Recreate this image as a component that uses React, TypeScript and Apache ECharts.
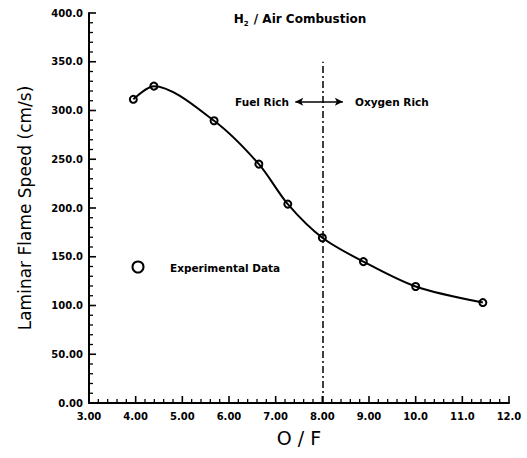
import React, { useEffect, useRef } from "react";
import * as echarts from "echarts";

// O/F ratio of each experimental point
const ofRatios = [3.95, 4.39, 5.68, 6.64, 7.26, 8.0, 8.88, 10.0, 11.44];
// Laminar flame speed (cm/s)
const flameSpeeds = [311.5, 325, 289.5, 245, 204, 169.5, 145, 119.5, 103];

const xTickValues = [3, 4, 5, 6, 7, 8, 9, 10, 11, 12];
const xTickLabels = ["3.00", "4.00", "5.00", "6.00", "7.00", "8.00", "9.00", "10.0", "11.0", "12.0"];
const yTickValues = [0, 50, 100, 150, 200, 250, 300, 350, 400];
const yTickLabels = ["0.00", "50.00", "100.0", "150.0", "200.0", "250.0", "300.0", "350.0", "400.0"];
const minorPerMajor = 5;

// Stoichiometric divider and the rich/lean arrows
const dividerX = 8.0;
const dividerTop = 350;
const arrowY = 309;
const arrowLeftEnd = 7.42;
const arrowRightEnd = 8.44;

const FONT = "DejaVu Sans";

function minorBetween(majors: number[]): number[] {
  const out: number[] = [];
  for (let i = 0; i < majors.length - 1; i++) {
    const step = (majors[i + 1] - majors[i]) / minorPerMajor;
    for (let k = 1; k < minorPerMajor; k++) out.push(+(majors[i] + step * k).toFixed(4));
  }
  return out;
}

function tickSeries(data: number[][], vertical: boolean, len: number, width: number) {
  return {
    type: "custom",
    silent: true,
    clip: false,
    data,
    encode: { x: 0, y: 1 },
    z: 4,
    renderItem: (_params: any, api: any) => {
      const p = api.coord([api.value(0), api.value(1)]);
      return {
        type: "rect",
        shape: vertical
          ? { x: p[0] - width / 2, y: p[1] - len, width: width, height: len }
          : { x: p[0], y: p[1] - width / 2, width: len, height: width },
        style: { fill: "#000" },
      };
    },
  };
}

export default function App() {
  const ref = useRef<HTMLDivElement>(null);

  useEffect(() => {
    if (!ref.current) return;
    const chart = echarts.init(ref.current, undefined, { renderer: "svg" });
    const pairs = ofRatios.map((x, i) => [x, flameSpeeds[i]]);
    const xMin = xTickValues[0];
    const yMin = yTickValues[0];
    chart.setOption({
      animation: false,
      backgroundColor: "#fff",
      textStyle: { fontFamily: FONT, color: "#000" },
      grid: { left: 89, right: 18, top: 13, bottom: 55, containLabel: false },
      xAxis: {
        type: "value",
        min: 3,
        max: 12,
        interval: 1,
        name: "O / F",
        nameLocation: "middle",
        nameGap: 25,
        nameTextStyle: { fontFamily: FONT, fontSize: 19, color: "#000" },
        axisLine: { show: true, onZero: false, lineStyle: { color: "#000", width: 2 } },
        axisTick: { show: false },
        splitLine: { show: false },
        axisLabel: {
          fontFamily: FONT,
          fontWeight: "bold",
          fontSize: 10,
          color: "#000",
          margin: 8,
          formatter: (v: number) => {
            const i = xTickValues.indexOf(Math.round(v));
            return i >= 0 ? xTickLabels[i] : "";
          },
        },
      },
      yAxis: {
        type: "value",
        min: 0,
        max: 400,
        interval: 50,
        name: "Laminar Flame Speed (cm/s)",
        nameLocation: "middle",
        nameGap: 56,
        nameTextStyle: { fontFamily: FONT, fontSize: 17, color: "#000" },
        axisLine: { show: true, onZero: false, lineStyle: { color: "#000", width: 2 } },
        axisTick: { show: false },
        splitLine: { show: false },
        axisLabel: {
          fontFamily: FONT,
          fontWeight: "bold",
          fontSize: 10,
          color: "#000",
          margin: 6,
          formatter: (v: number) => {
            const i = yTickValues.indexOf(Math.round(v));
            return i >= 0 ? yTickLabels[i] : "";
          },
        },
      },
      series: [
        tickSeries(xTickValues.map((v) => [v, yMin]), true, 7, 1.6),
        tickSeries(minorBetween(xTickValues).map((v) => [v, yMin]), true, 4, 1.3),
        tickSeries(yTickValues.map((v) => [xMin, v]), false, 7, 1.6),
        tickSeries(minorBetween(yTickValues).map((v) => [xMin, v]), false, 4, 1.3),
        {
          type: "line",
          name: "Experimental Data",
          data: pairs,
          smooth: 0.3,
          symbol: "circle",
          symbolSize: 7,
          showSymbol: true,
          lineStyle: { color: "#000", width: 2 },
          itemStyle: { color: "rgba(0,0,0,0)", borderColor: "#000", borderWidth: 2 },
          z: 3,
          markLine: {
            silent: true,
            symbol: ["none", "none"],
            label: { show: false },
            lineStyle: { color: "#000" },
            data: [
              [
                { coord: [dividerX, 0], lineStyle: { type: [7, 3, 2, 3], width: 1.5, color: "#000" } },
                { coord: [dividerX, dividerTop] },
              ],
              [
                { coord: [dividerX, arrowY], lineStyle: { type: "solid", width: 1.5, color: "#000" } },
                { coord: [arrowLeftEnd, arrowY], symbol: "arrow", symbolSize: [6, 8] },
              ],
              [
                { coord: [dividerX, arrowY], lineStyle: { type: "solid", width: 1.5, color: "#000" } },
                { coord: [arrowRightEnd, arrowY], symbol: "arrow", symbolSize: [6, 8] },
              ],
            ],
          },
        },
      ],
      graphic: [
        {
          type: "text",
          x: 300,
          y: 19,
          style: {
            text: "{a|H}{s|2}{a| / Air Combustion}",
            align: "center",
            verticalAlign: "middle",
            fill: "#000",
            rich: {
              a: { fontFamily: FONT, fontWeight: "bold", fontSize: 12, lineHeight: 16, fill: "#000" },
              s: { fontFamily: FONT, fontWeight: "bold", fontSize: 7, lineHeight: 16, verticalAlign: "bottom", fill: "#000", padding: [0, 1, 0, 0] },
            },
          },
        },
        {
          type: "text",
          x: 289,
          y: 102,
          style: {
            text: "Fuel Rich",
            align: "right",
            verticalAlign: "middle",
            fontFamily: FONT,
            fontWeight: "bold",
            fontSize: 10.5,
            fill: "#000",
          },
        },
        {
          type: "text",
          x: 355,
          y: 102,
          style: {
            text: "Oxygen Rich",
            align: "left",
            verticalAlign: "middle",
            fontFamily: FONT,
            fontWeight: "bold",
            fontSize: 10.5,
            fill: "#000",
          },
        },
        {
          type: "circle",
          shape: { cx: 138, cy: 267, r: 5.5 },
          style: { fill: "none", stroke: "#000", lineWidth: 2 },
        },
        {
          type: "text",
          x: 170,
          y: 268,
          style: {
            text: "Experimental Data",
            align: "left",
            verticalAlign: "middle",
            fontFamily: FONT,
            fontWeight: "bold",
            fontSize: 10.5,
            fill: "#000",
          },
        },
      ],
    });
    return () => chart.dispose();
  }, []);

  return (
    <div
      ref={ref}
      style={{ position: "absolute", left: 0, top: 0, width: 527, height: 458, background: "#fff" }}
    />
  );
}
